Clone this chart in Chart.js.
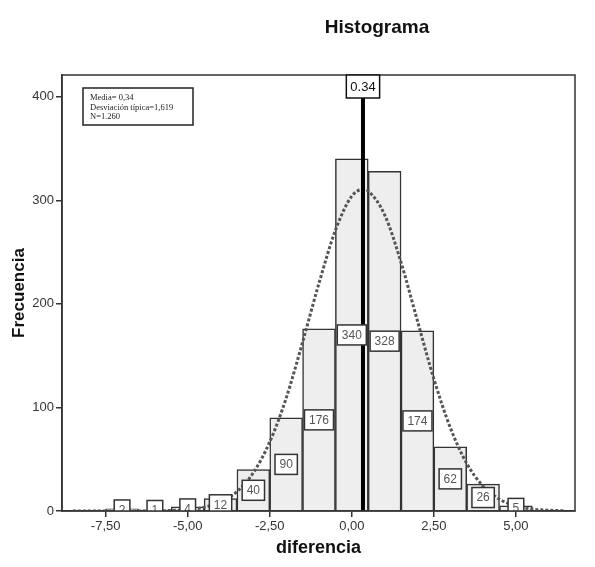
<!DOCTYPE html>
<html><head><meta charset="utf-8">
<script src="https://cdn.jsdelivr.net/npm/chart.js@4.4.1/dist/chart.umd.min.js"></script>
<style>html,body{margin:0;padding:0;background:#fff;}#wrap{width:595px;height:567px;position:relative;}</style>
</head><body><div id="wrap"><canvas id="c"></canvas></div>
<script>
const binCenters = [-7,-6,-5,-4,-3,-2,-1,0,1,2,3,4,5];
const binCounts = [2,1,4,12,40,90,176,340,328,174,62,26,5];
const curveX = [-8.5,-8,-7.5,-7,-6.5,-6,-5.5,-5,-4.5,-4,-3.5,-3,-2.5,-2,-1.5,-1,-0.5,0,0.34,0.5,1,1.5,2,2.5,3,3.5,4,4.5,5,5.5,6,6.5];
const curveY = [0,0,0,0,0,0.1,0.5,1.3,3.6,8.6,18.7,37,66.7,109,163,220,271,304,310.5,309,286,240,183.5,127.5,80.5,46,24,11.4,4.9,1.9,0.7,0.2];
const meanValue = 0.34;
const meanLabel = '0.34';
const xTickValues = [-7.5,-5,-2.5,0,2.5,5];
const yTickValues = [0,100,200,300,400];
const statsLines = ['Media= 0,34','Desviación típica=1,619','N=1.260'];
const chartTitle = 'Histograma';
const xTitle = 'diferencia';
const yTitle = 'Frecuencia';

const SANS = '"Liberation Sans", Arial, sans-serif';

const decor = {
  id: 'decor',
  beforeDraw(chart) {
    const ctx = chart.ctx;
    ctx.save(); ctx.fillStyle = '#fff'; ctx.fillRect(0, 0, chart.width, chart.height); ctx.restore();
  },
  afterDatasetsDraw(chart) {
    const {ctx, chartArea: a, scales: {x, y}} = chart;
    ctx.save();
    ctx.beginPath(); ctx.rect(a.left, a.top, a.right - a.left, a.bottom - a.top); ctx.clip();
    ctx.font = '12px ' + SANS;
    ctx.textAlign = 'center'; ctx.textBaseline = 'middle';
    binCenters.forEach((c, i) => {
      const v = binCounts[i];
      const px = x.getPixelForValue(c);
      const py = y.getPixelForValue(v / 2);
      const t = String(v);
      const w = ctx.measureText(t).width + 9;
      const h = 20;
      ctx.fillStyle = '#fff'; ctx.fillRect(px - w / 2, py - h / 2, w, h);
      ctx.strokeStyle = '#333'; ctx.lineWidth = 1.5; ctx.strokeRect(px - w / 2, py - h / 2, w, h);
      ctx.fillStyle = '#555'; ctx.fillText(t, px, py + 0.5);
    });
    ctx.restore();
  },
  afterDraw(chart) {
    const {ctx, chartArea: a, scales: {x}} = chart;
    ctx.save();
    // frame
    ctx.strokeStyle = '#333'; ctx.lineWidth = 1.5;
    ctx.strokeRect(a.left, a.top, a.right - a.left, a.bottom - a.top);
    // mean label
    ctx.font = '13px ' + SANS;
    ctx.textAlign = 'center'; ctx.textBaseline = 'middle';
    const mx = x.getPixelForValue(meanValue);
    const mw = ctx.measureText(meanLabel).width + 8, mh = 23;
    ctx.fillStyle = '#fff'; ctx.fillRect(mx - mw / 2, a.top, mw, mh);
    ctx.strokeStyle = '#111'; ctx.lineWidth = 1.5; ctx.strokeRect(mx - mw / 2, a.top, mw, mh);
    ctx.fillStyle = '#111'; ctx.fillText(meanLabel, mx, a.top + mh / 2 + 1);
    // stats box
    const bx = a.left + 21, by = a.top + 13, bw = 110, bh = 37;
    ctx.fillStyle = '#fff'; ctx.fillRect(bx, by, bw, bh);
    ctx.strokeStyle = '#222'; ctx.lineWidth = 1.5; ctx.strokeRect(bx, by, bw, bh);
    ctx.font = '8.5px "Liberation Serif", "Times New Roman", serif';
    ctx.textAlign = 'left'; ctx.fillStyle = '#222';
    statsLines.forEach((s, i) => ctx.fillText(s, bx + 7, by + 10 + i * 9.5));
    // title
    ctx.font = 'bold 19px ' + SANS;
    ctx.textAlign = 'center'; ctx.fillStyle = '#111';
    ctx.fillText(chartTitle, 377, 28);
    ctx.restore();
  }
};

new Chart(document.getElementById('c'), {
  data: {
    datasets: [
      {
        type: 'bar',
        data: binCenters.map((c, i) => ({x: c, y: binCounts[i]})),
        backgroundColor: '#eeeeee',
        borderColor: '#333',
        borderWidth: 1.5,
        barPercentage: 1,
        categoryPercentage: 1,
        order: 3
      },
      {
        type: 'line',
        data: curveX.map((c, i) => ({x: c, y: curveY[i]})),
        borderColor: '#555',
        borderWidth: 3,
        borderDash: [3, 2],
        pointRadius: 0,
        cubicInterpolationMode: 'monotone',
        fill: false,
        order: 2
      },
      {
        type: 'line',
        data: [{x: meanValue, y: 0}, {x: meanValue, y: 421}],
        borderColor: '#000',
        borderWidth: 4,
        pointRadius: 0,
        fill: false,
        order: 1
      }
    ]
  },
  options: {
    responsive: true,
    maintainAspectRatio: false,
    animation: false,
    layout: {padding: {top: 75, right: 20, left: 0, bottom: 0}},
    plugins: {legend: {display: false}, tooltip: {enabled: false}, title: {display: false}},
    scales: {
      x: {
        type: 'linear',
        min: -8.83, max: 6.8,
        offset: false,
        afterBuildTicks: s => { s.ticks = xTickValues.map(v => ({value: v})); },
        afterFit: s => { s.height = 56; },
        ticks: {
          color: '#333', font: {family: SANS, size: 13}, padding: 2,
          callback: v => v.toFixed(2).replace('.', ',')
        },
        grid: {display: true, drawOnChartArea: false, drawTicks: true, tickLength: 6, color: '#333', lineWidth: 1.5, offset: false},
        border: {display: true, color: '#333', width: 1.5},
        title: {display: true, text: xTitle, color: '#111', font: {family: SANS, size: 18, weight: 'bold'}, padding: {top: 0, bottom: 8}}
      },
      y: {
        type: 'linear',
        min: 0, max: 421,
        afterBuildTicks: s => { s.ticks = yTickValues.map(v => ({value: v})); },
        afterFit: s => { s.width = 62; },
        ticks: {color: '#333', font: {family: SANS, size: 13}, padding: 2},
        grid: {display: true, drawOnChartArea: false, drawTicks: true, tickLength: 6, color: '#333', lineWidth: 1.5},
        border: {display: true, color: '#333', width: 1.5},
        title: {display: true, text: yTitle, color: '#111', font: {family: SANS, size: 17, weight: 'bold'}, padding: {top: 9, bottom: 0}}
      }
    }
  },
  plugins: [decor]
});
</script>
</body></html>
